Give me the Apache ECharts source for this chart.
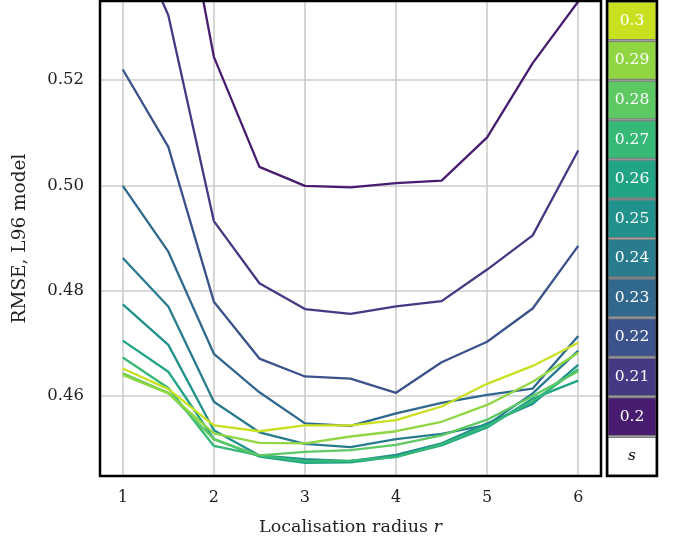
<!DOCTYPE html>
<html><head><meta charset="utf-8">
<script src="https://cdn.jsdelivr.net/npm/echarts@6/dist/echarts.min.js"></script>
<style>html,body{margin:0;padding:0;background:#fff}#c{width:682px;height:543px}</style>
</head><body><div id="c"></div>
<script>
// Localisation radii (x)
const radii = [1, 1.5, 2, 2.5, 3, 3.5, 4, 4.5, 5, 5.5, 6];
// s values (legend) and colours (viridis)
const sLabels = ['0.2', '0.21', '0.22', '0.23', '0.24', '0.25', '0.26', '0.27', '0.28', '0.29', '0.3'];
const sColors = ['#481d6f', '#443983', '#3b528b', '#31688e', '#287c8e', '#21918c', '#21a485', '#36b877', '#5ec962', '#90d643', '#c8e020'];
// RMSE per s
const rmse_020 = [0.610, 0.5703, 0.5244, 0.5035, 0.4999, 0.4996, 0.5004, 0.5009, 0.5091, 0.5232, 0.5349];
const rmse_021 = [0.5519, 0.5323, 0.4932, 0.4814, 0.4765, 0.4756, 0.4770, 0.4780, 0.4840, 0.4905, 0.5066];
const rmse_022 = [0.5220, 0.5073, 0.4779, 0.4671, 0.4637, 0.4633, 0.4606, 0.4664, 0.4703, 0.4766, 0.4885];
const rmse_023 = [0.4999, 0.4874, 0.4680, 0.4607, 0.4548, 0.4543, 0.4567, 0.4587, 0.4602, 0.4614, 0.4714];
const rmse_024 = [0.4862, 0.4770, 0.4589, 0.4531, 0.4509, 0.4503, 0.4518, 0.4528, 0.4545, 0.4605, 0.4686];
const rmse_025 = [0.4774, 0.4697, 0.4535, 0.4487, 0.4480, 0.4476, 0.4488, 0.4510, 0.4548, 0.4585, 0.4659];
const rmse_026 = [0.4705, 0.4646, 0.4518, 0.4485, 0.4473, 0.4474, 0.4485, 0.4506, 0.4540, 0.4595, 0.4629];
const rmse_027 = [0.4673, 0.4615, 0.4505, 0.4487, 0.4476, 0.4477, 0.4484, 0.4508, 0.4543, 0.4590, 0.4651];
const rmse_028 = [0.4643, 0.4606, 0.4518, 0.4487, 0.4494, 0.4497, 0.4507, 0.4525, 0.4555, 0.4600, 0.4647];
const rmse_029 = [0.4640, 0.4605, 0.4529, 0.4511, 0.4510, 0.4523, 0.4533, 0.4551, 0.4583, 0.4627, 0.4682];
const rmse_030 = [0.4652, 0.4613, 0.4544, 0.4533, 0.4544, 0.4544, 0.4554, 0.4580, 0.4623, 0.4657, 0.4701];
// Tick labels
const xTicks = [1, 2, 3, 4, 5, 6];
const yTicks = [0.46, 0.48, 0.50, 0.52];

const allRmse = [rmse_020, rmse_021, rmse_022, rmse_023, rmse_024, rmse_025, rmse_026, rmse_027, rmse_028, rmse_029, rmse_030];
const FONT = 'DejaVu Serif';

const lineSeries = allRmse.map((vals, k) => ({
  type: 'line',
  name: sLabels[k],
  xAxisIndex: 0, yAxisIndex: 0,
  data: radii.map((r, i) => [r, vals[i]]),
  symbol: 'none',
  clip: true,
  lineStyle: { color: sColors[k], width: 2.3 },
  itemStyle: { color: sColors[k] },
  animation: false,
  z: 2 + k
}));

// legend column (top: 0.3 ... 0.2, bottom: s)
const legendCats = sLabels.slice().reverse().concat(['s']);
const legendColors = sColors.slice().reverse().concat(['#ffffff']);

const legendSeries = {
  type: 'bar',
  xAxisIndex: 1, yAxisIndex: 1,
  barCategoryGap: '0%',
  data: legendCats.map((c, i) => ({
    value: 1,
    itemStyle: { color: legendColors[i], borderColor: '#808080', borderWidth: 1.5 },
    label: {
      show: true, position: 'inside',
      formatter: c,
      color: c === 's' ? '#000' : '#fff',
      fontStyle: c === 's' ? 'italic' : 'normal',
      fontFamily: FONT, fontSize: 15.5
    }
  })),
  animation: false,
  silent: true
};

const chart = echarts.init(document.getElementById('c'), null, { renderer: 'canvas' });
chart.setOption({
  backgroundColor: '#fff',
  animation: false,
  grid: [
    { left: 100, right: 81, top: 1, bottom: 67, show: true, borderColor: '#000', borderWidth: 2.5, backgroundColor: 'transparent', z: 10, outerBoundsMode: 'none' },
    { left: 607, right: 25, top: 1, bottom: 67, show: true, borderColor: '#000', borderWidth: 2.5, backgroundColor: 'transparent', z: 10, outerBoundsMode: 'none' }
  ],
  xAxis: [
    {
      type: 'value', gridIndex: 0, min: 0.75, max: 6.25,
      name: 'Localisation radius {i|r}', nameLocation: 'middle', nameGap: 42,
      nameTextStyle: { fontFamily: FONT, fontSize: 17.5, color: '#222',
        rich: { i: { fontFamily: FONT, fontSize: 17.5, fontStyle: 'italic', color: '#222' } } },
      axisLine: { show: false },
      axisTick: { show: false, customValues: xTicks },
      axisLabel: { customValues: xTicks, fontFamily: FONT, fontSize: 16, color: '#222', margin: 14 },
      splitLine: { show: true, lineStyle: { color: '#cccccc', width: 1.6 } }
    },
    { type: 'value', gridIndex: 1, min: 0, max: 1, show: false }
  ],
  yAxis: [
    {
      type: 'value', gridIndex: 0, min: 0.4448, max: 0.5350,
      name: 'RMSE, L96 model', nameLocation: 'middle', nameGap: 70,
      nameTextStyle: { fontFamily: FONT, fontSize: 18.5, color: '#222' },
      axisLine: { show: false },
      axisTick: { show: false, customValues: yTicks },
      axisLabel: { customValues: yTicks, fontFamily: FONT, fontSize: 16.5, color: '#222', margin: 16,
        formatter: v => v.toFixed(2) },
      splitLine: { show: true, lineStyle: { color: '#cccccc', width: 1.6 } }
    },
    { type: 'category', gridIndex: 1, data: legendCats, inverse: true, show: false }
  ],
  series: lineSeries.concat([legendSeries])
});
</script>
</body></html>
